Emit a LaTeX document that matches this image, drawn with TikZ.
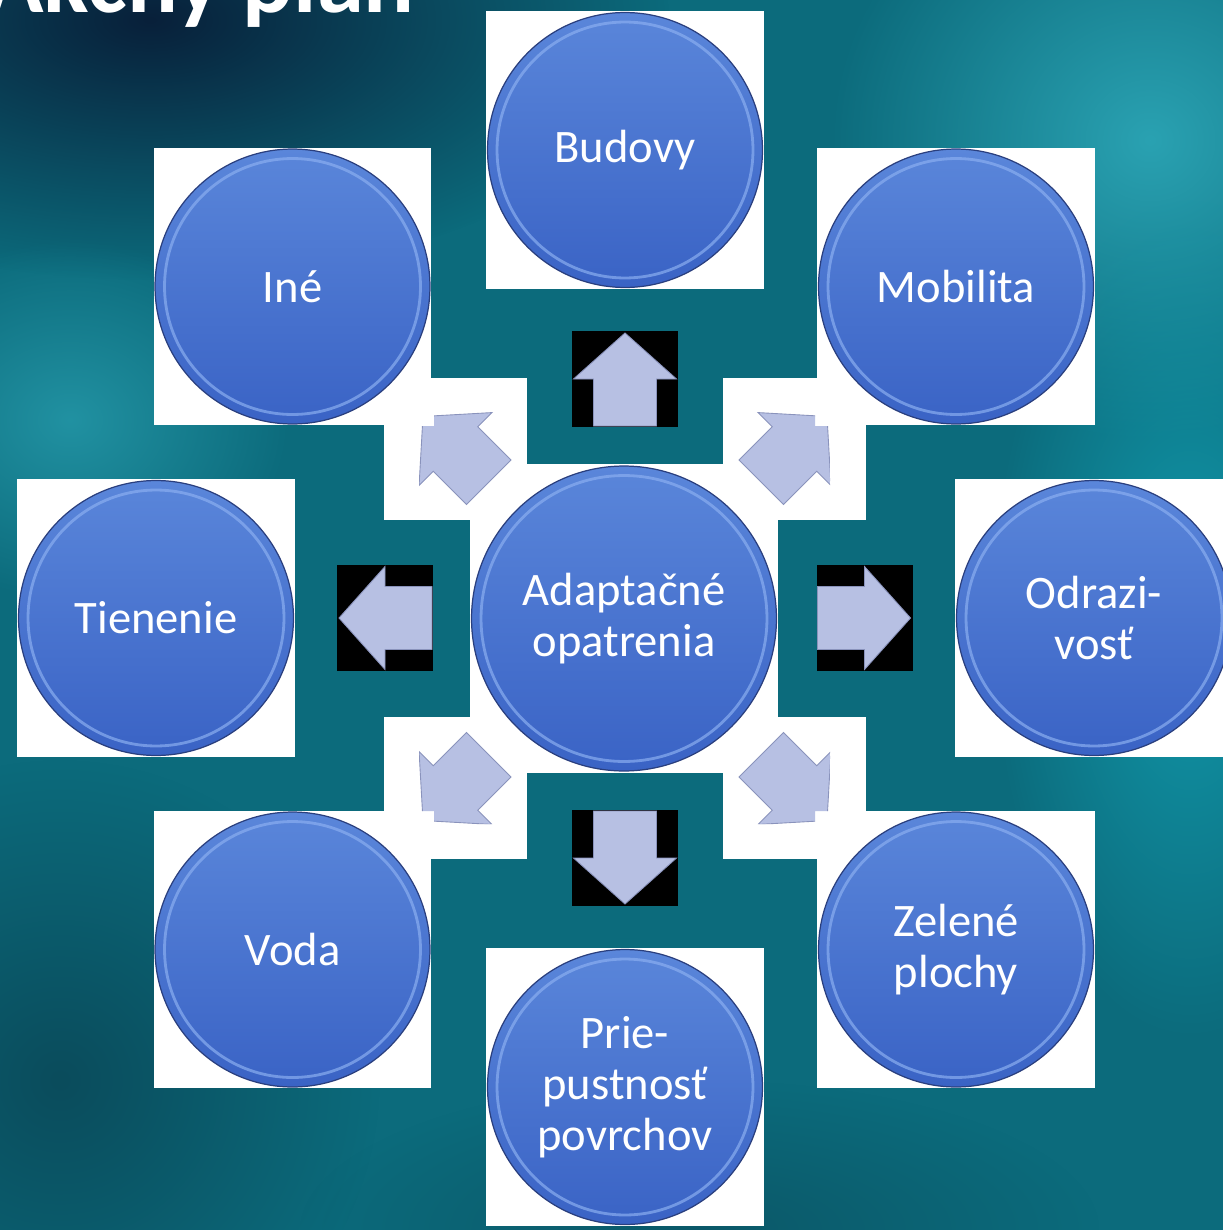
\documentclass[tikz,border=0pt]{standalone}
\usepackage{fontspec}
\setmainfont{Carlito}
\usepackage{tikz}
\usetikzlibrary{fadings}

\definecolor{bgbase}{HTML}{0C6B7C}
\definecolor{bgdark}{HTML}{08203A}
\definecolor{bglight}{HTML}{2AA2B2}
\definecolor{bgdeep}{HTML}{0A4C5C}
\definecolor{bgcyan}{HTML}{1198AA}
\definecolor{bubtop}{HTML}{5A86DA}
\definecolor{bubbot}{HTML}{3A63C5}
\definecolor{rimdark}{HTML}{2A3F7E}
\definecolor{rimlight}{HTML}{8AAEF0}
\definecolor{arrowfill}{HTML}{B7C0E3}
\definecolor{arrowline}{HTML}{8A93BC}

\tikzfading[name=soft blob, inner color=transparent!0, outer color=transparent!100]

% up arrow, in pixels, centred on the origin
\newcommand{\arrowpath}{(0,-46) -- (51.5,0) -- (31.5,0) -- (31.5,47) -- (-31.5,47) -- (-31.5,0) -- (-51.5,0) -- cycle}

\begin{document}
\begin{tikzpicture}[x=0.02cm,y=-0.02cm,
    bubble/.style={circle, minimum size=#1, inner sep=0pt, draw=rimdark, line width=0.7pt,
      top color=bubtop, bottom color=bubbot, text=white, align=center,
      font=\fontsize{26.5}{29}\selectfont,
      path picture={\draw[rimlight, opacity=0.7, line width=1.6pt]
        (path picture bounding box.center) circle (#1/2-0.19cm);}},
    back box/.style={fill=white, draw=none, minimum width=#1, minimum height=#1, inner sep=0pt},
    dark box/.style={fill=black, draw=none, inner sep=0pt},
    arrow shape/.style={fill=arrowfill, draw=arrowline, line width=0.5pt, line join=miter},
    title/.style={text=white, font=\fontsize{54}{64}\selectfont\bfseries, inner sep=0pt}]

  \clip (0,0) rectangle (1223,1230);

  %Background%
  \fill[bgbase] (0,0) rectangle (1223,1230);
  \fill[bgdark, path fading=soft blob] (150,20) ellipse (520 and 260);
  \fill[bglight, path fading=soft blob] (1150,140) ellipse (320 and 300);
  \fill[bglight, opacity=0.7, path fading=soft blob] (70,420) ellipse (220 and 180);
  \fill[bgdeep, path fading=soft blob] (60,1080) ellipse (320 and 320);
  \fill[bgcyan, path fading=soft blob] (1190,620) ellipse (200 and 420);
  \fill[bgdeep, opacity=0.6, path fading=soft blob] (700,1230) ellipse (400 and 150);

  %Title%
  \node[title, anchor=base east] (title) at (415,13) {Akčný plán};

  %Centres%
  \coordinate (bud) at (625,150);
  \coordinate (ine) at (292.5,286.5);
  \coordinate (mob) at (956,286.5);
  \coordinate (tie) at (156,618);
  \coordinate (ada) at (624,618.5);
  \coordinate (odr) at (1094,618);
  \coordinate (vod) at (292.5,949.5);
  \coordinate (zel) at (956,949.5);
  \coordinate (pri) at (625,1087);

  %White boxes%
  \foreach \n in {bud,ine,mob,tie,odr,vod,zel,pri}
    \node[back box=5.56cm] at (\n) {};
  \node[back box=6.17cm] at (ada) {};
  \node[back box=2.85cm] (nw) at (455.5,449) {};
  \node[back box=2.85cm] (ne) at (794.5,449) {};
  \node[back box=2.85cm] (sw) at (455.5,788) {};
  \node[back box=2.85cm] (se) at (794.5,788) {};

  %Black boxes%
  \node[dark box, minimum width=2.12cm, minimum height=1.92cm] (up) at (625,379) {};
  \node[dark box, minimum width=2.12cm, minimum height=1.92cm] (down) at (625,858) {};
  \node[dark box, minimum width=1.92cm, minimum height=2.12cm] (left) at (385,618) {};
  \node[dark box, minimum width=1.92cm, minimum height=2.12cm] (right) at (864.5,618) {};

  %Arrows%
  \draw[arrow shape, shift={(up)}] \arrowpath;
  \draw[arrow shape, shift={(down)}, rotate=180] \arrowpath;
  \draw[arrow shape, shift={(left)}, rotate=90] \arrowpath;
  \draw[arrow shape, shift={(right)}, rotate=-90] \arrowpath;
  \begin{scope}
    \clip (419,426) -- (434,426) -- (434,412) -- (527,412) -- (527,520) -- (419,520) -- cycle;
    \draw[arrow shape, shift={(nw)}, rotate=45] \arrowpath;
  \end{scope}
  \begin{scope}
    \clip (830,426) -- (815,426) -- (815,412) -- (723,412) -- (723,520) -- (830,520) -- cycle;
    \draw[arrow shape, shift={(ne)}, rotate=-45] \arrowpath;
  \end{scope}
  \begin{scope}
    \clip (419,811) -- (434,811) -- (434,824) -- (527,824) -- (527,717) -- (419,717) -- cycle;
    \draw[arrow shape, shift={(sw)}, rotate=135] \arrowpath;
  \end{scope}
  \begin{scope}
    \clip (830,811) -- (815,811) -- (815,824) -- (723,824) -- (723,717) -- (830,717) -- cycle;
    \draw[arrow shape, shift={(se)}, rotate=-135] \arrowpath;
  \end{scope}

  %Circles%
  \node[bubble=5.5cm] (budovy) at (bud) {Budovy};
  \node[bubble=5.5cm] (ineb) at (ine) {Iné};
  \node[bubble=5.5cm] (mobilita) at (mob) {Mobilita};
  \node[bubble=5.5cm] (tienenie) at (tie) {Tienenie};
  \node[bubble=6.1cm] (adapt) at (ada) {Adaptačné\\opatrenia};
  \node[bubble=5.5cm] (odrazivost) at (odr) {Odrazi-\\vosť};
  \node[bubble=5.5cm] (voda) at (vod) {Voda};
  \node[bubble=5.5cm] (zelene) at (zel) {Zelené\\plochy};
  \node[bubble=5.5cm] (priepust) at (pri) {Prie-\\pustnosť\\povrchov};
\end{tikzpicture}
\end{document}
